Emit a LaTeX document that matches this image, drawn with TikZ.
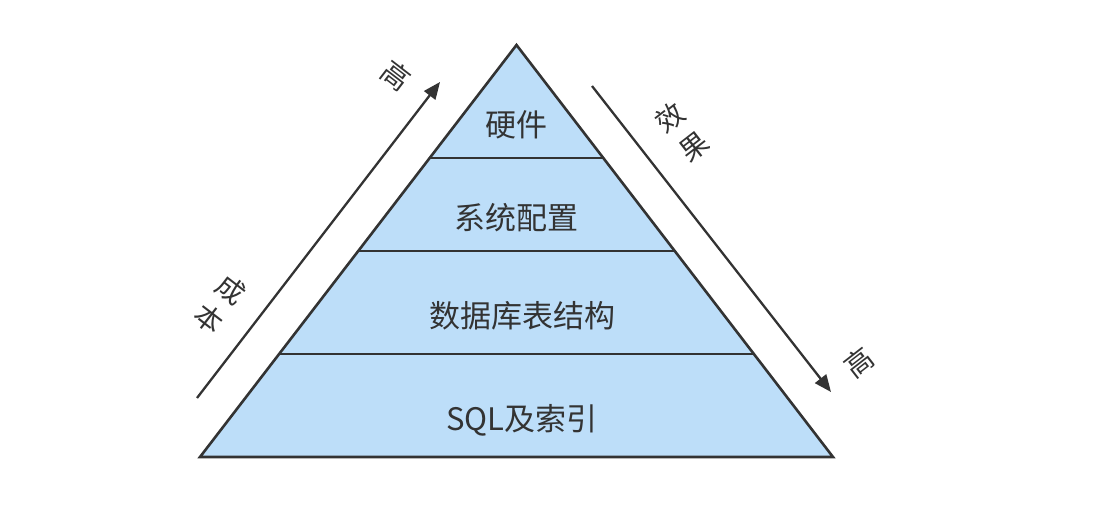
\documentclass[tikz,border=0pt]{standalone}
\usepackage{fontspec}
\setmainfont{Noto Sans CJK SC}
\newfontfamily\cjk{Noto Sans CJK SC}
\usetikzlibrary{arrows.meta}
\definecolor{pfill}{RGB}{189,222,249}
\definecolor{pline}{RGB}{51,51,51}
\tikzset{
  layer/.style={draw=pline, line width=2.6pt},
  lbl/.style={text=pline, font=\cjk\fontsize{31}{36}\selectfont, inner sep=0pt},
  side/.style={text=pline, font=\cjk\fontsize{28}{37}\selectfont, inner sep=0pt},
  axis/.style={draw=pline, line width=2.3pt, -{Triangle[length=17pt,width=14pt]}}
}
\begin{document}
\begin{tikzpicture}[x=1pt,y=-1pt]
\useasboundingbox (0,0) rectangle (1093,508);
\coordinate (apex) at (516.5,45);
\coordinate (bl) at (200,457);
\coordinate (br) at (833,457);
\fill[pfill] (apex) -- (br) -- (bl) -- cycle;
\coordinate (l1a) at (430,158); \coordinate (l1b) at (603,158);
\coordinate (l2a) at (358,251); \coordinate (l2b) at (675,251);
\coordinate (l3a) at (279,354); \coordinate (l3b) at (754,354);
\draw[layer] (l1a) -- (l1b);
\draw[layer] (l2a) -- (l2b);
\draw[layer] (l3a) -- (l3b);
\draw[layer, line join=miter] (apex) -- (br) -- (bl) -- cycle;
\node[lbl] (hw) at (516,125) {硬件};
\node[lbl] (sys) at (516,218) {系统配置};
\node[lbl] (db) at (522,316) {数据库表结构};
\node[lbl] (sql) at (522,420) {SQL及索引};
\coordinate (ca) at (197,398);
\coordinate (cb) at (440,82);
\draw[axis] (ca) -- (cb);
\coordinate (ea) at (592,86);
\coordinate (eb) at (831,392);
\draw[axis] (ea) -- (eb);
\node[side, rotate=-37.6] (cost1) at (231,290) {成};
\node[side, rotate=-37.6] (cost2) at (209,319) {本};
\node[side, rotate=-37.6] (hi1) at (396,76) {高};
\node[side, rotate=37.9] (eff1) at (670,118) {效};
\node[side, rotate=37.9] (eff2) at (694,147) {果};
\node[side, rotate=37.9] (hi2) at (859,362) {高};
\end{tikzpicture}
\end{document}
